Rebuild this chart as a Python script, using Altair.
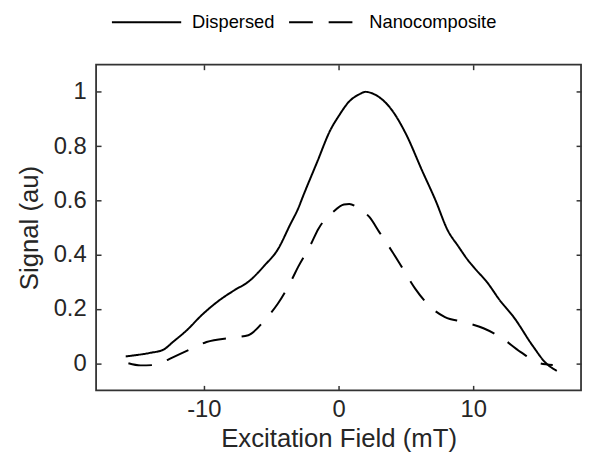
import altair as alt
import pandas as pd

# ---- data ----
disp_x = [-15.8, -15.0, -14.0, -13.0, -12.3, -11.3, -10.1, -8.9, -7.7, -6.7, -5.5, -4.5,
          -3.6, -3.0, -2.6, -1.6, -0.6, 0.0, 0.8, 1.5, 2.0, 2.7, 4.0, 5.0, 6.2, 7.2,
          8.1, 8.9, 9.6, 10.1, 11.0, 12.0, 13.0, 14.4, 15.4, 16.2]
disp_y = [0.025, 0.030, 0.038, 0.050, 0.078, 0.120, 0.180, 0.230, 0.270, 0.300, 0.360, 0.420,
          0.510, 0.570, 0.620, 0.740, 0.860, 0.910, 0.965, 0.990, 1.000, 0.990, 0.930, 0.845, 0.710, 0.600,
          0.490, 0.430, 0.380, 0.350, 0.300, 0.230, 0.170, 0.065, 0.000, -0.028]

nano_x = [-15.6, -14.7, -13.8, -13.0, -12.5, -10.9, -9.8, -7.9, -6.7, -5.5, -4.5, -3.5,
          -3.0, -2.1, -1.5, -0.4, 0.4, 0.8, 1.5, 2.3, 3.0, 4.0, 4.7, 5.7, 6.7, 7.9,
          9.3, 10.8, 12.0, 13.5, 14.9, 15.9]
nano_y = [0.000, -0.008, -0.007, 0.005, 0.017, 0.054, 0.078, 0.094, 0.103, 0.158, 0.220, 0.305,
          0.355, 0.434, 0.495, 0.558, 0.585, 0.587, 0.570, 0.538, 0.485, 0.410, 0.354, 0.274, 0.213, 0.170,
          0.152, 0.128, 0.097, 0.042, 0.000, -0.007]

series_names = ["Dispersed", "Nanocomposite"]
x_ticks = [-10, 0, 10]
y_ticks = [0, 0.2, 0.4, 0.6, 0.8, 1]

df = pd.concat([
    pd.DataFrame({"x": disp_x, "y": disp_y, "series": series_names[0]}),
    pd.DataFrame({"x": nano_x, "y": nano_y, "series": series_names[1]}),
], ignore_index=True)

FONT = "Liberation Sans"
FRAME = "#333333"
TXT = "#262626"

xscale = alt.Scale(domain=[-18, 18], nice=False, zero=False)
yscale = alt.Scale(domain=[-0.1, 1.1], nice=False, zero=False)

common_axis = dict(grid=False, domain=False, tickSize=5, tickWidth=1.5, tickColor=FRAME, offset=-5)

lines = alt.Chart(df).mark_line(color="black", strokeWidth=2, interpolate="monotone").encode(
    x=alt.X("x:Q", scale=xscale, axis=alt.Axis(
        orient="bottom", values=x_ticks, title="Excitation Field (mT)",
        labelExpr="replace(datum.label, '\u2212', '-')",
        labelFontSize=24, labelFont=FONT, labelColor=TXT, labelPadding=7,
        titleFontSize=26, titleFont=FONT, titleColor=TXT, titleFontWeight="normal", titlePadding=5,
        **common_axis)),
    y=alt.Y("y:Q", scale=yscale, axis=alt.Axis(
        orient="left", values=y_ticks, title="Signal (au)", format="~g",
        labelFontSize=24, labelFont=FONT, labelColor=TXT, labelPadding=10,
        titleFontSize=26, titleFont=FONT, titleColor=TXT, titleFontWeight="normal", titlePadding=11,
        **common_axis)),
    strokeDash=alt.StrokeDash("series:N",
        scale=alt.Scale(domain=series_names, range=[[1, 0], [24, 16]]),
        legend=alt.Legend(title=None, orient="none", direction="horizontal",
                          legendX=15, legendY=-53, clipHeight=20,
                          symbolType="stroke", symbolSize=70 * 70, symbolStrokeWidth=2,
                          symbolStrokeColor="black", labelFontSize=18.5, labelFont=FONT,
                          labelColor="black", labelOffset=10, columnPadding=13, padding=0)),
)

frame_ticks = alt.Chart(df).mark_point(opacity=0).encode(
    x=alt.X("x:Q", scale=xscale, axis=alt.Axis(orient="top", values=x_ticks, labels=False, title=None, **common_axis)),
    y=alt.Y("y:Q", scale=yscale, axis=alt.Axis(orient="right", values=y_ticks, labels=False, title=None, **common_axis)),
)

chart = alt.layer(lines, frame_ticks).resolve_axis(x="independent", y="independent").properties(
    width=490, height=329,
    autosize=alt.AutoSizeParams(type="none"),
    padding={"left": 89, "top": 55, "right": 3, "bottom": 61},
    background="white",
).configure_view(stroke=FRAME, strokeWidth=1.8)

chart.save("out.html", embed_options={"renderer": "svg", "actions": False})
